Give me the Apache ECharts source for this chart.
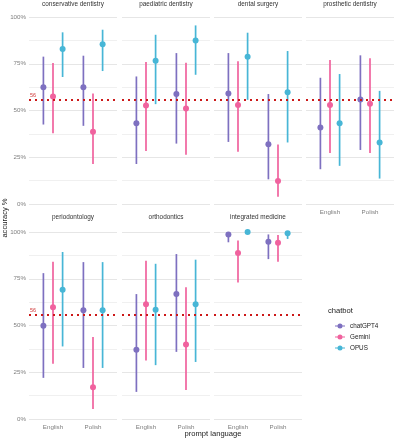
<!DOCTYPE html>
<html>
<head>
<meta charset="utf-8">
<script src="https://cdn.jsdelivr.net/npm/echarts@6/dist/echarts.min.js"></script>
<style>
  html, body { margin: 0; padding: 0; background: #fff; }
  #main { width: 395px; height: 440px; }
</style>
</head>
<body>
<div id="main"></div>
<script>
// panels in facet order, languages on x
var panels = ['conservative dentistry', 'paediatric dentistry', 'dental surgery', 'prosthetic dentistry',
              'periodontology', 'orthodontics', 'integrated medicine'];
var languages = ['English', 'Polish'];
var bots = ['chatGPT4', 'Gemini', 'OPUS'];
var yTicks = [0, 25, 50, 75, 100];
var refValue = 56;

// accuracy % per panel, [English, Polish]
var gptEst = [[62.5, 62.5], [43.2, 58.8], [59.1, 32.0], [40.9, 55.9], [49.8, 58.2], [37.0, 66.8], [98.7, 94.8]];
var gptLo  = [[42.5, 41.8], [21.4, 32.3], [33.2, 13.2], [18.6, 28.9], [22.0, 27.3], [14.5, 35.9], [94.5, 85.5]];
var gptHi  = [[78.8, 79.3], [68.2, 80.7], [80.7, 58.8], [67.5, 79.5], [78.0, 83.9], [66.8, 88.2], [99.8, 98.7]];

var gemEst = [[57.5, 38.6], [52.7, 51.1], [53.0, 12.3], [53.0, 53.6], [59.8, 17.0], [61.3, 39.8], [88.8, 94.3]];
var gemLo  = [[37.9, 21.4], [28.4, 26.3], [28.0, 3.9], [27.3, 27.3], [29.6, 5.4], [31.3, 15.5], [73.0, 84.1]];
var gemHi  = [[75.4, 59.1], [75.9, 75.5], [76.4, 31.8], [77.0, 78.0], [84.1, 43.8], [84.6, 70.4], [95.5, 98.4]];

var opusEst = [[82.9, 85.4], [76.6, 87.5], [78.8, 59.8], [43.2, 32.9], [69.1, 58.2], [58.4, 61.3], [100, 99.3]];
var opusLo  = [[67.9, 71.1], [53.4, 69.1], [55.7, 32.9], [20.4, 13.6], [38.8, 27.3], [28.8, 30.5], [99.5, 96.3]];
var opusHi  = [[91.8, 93.2], [90.5, 95.5], [91.6, 81.8], [69.5, 60.5], [89.3, 83.9], [83.0, 85.2], [100, 100]];

var botColors = ['#7E70C0', '#F0629E', '#47B6D6'];
var botEst = [gptEst, gemEst, opusEst];
var botLo = [gptLo, gemLo, opusLo];
var botHi = [gptHi, gemHi, opusHi];
var dodge = [-0.24, 0, 0.24];

var colLeft = [29, 122, 214, 306];
var rowTop = [17, 232];
var panelW = 88, panelH = 187;
var fontFamily = '"Liberation Sans", Arial, sans-serif';

function makeRender(b) {
  return function (params, api) {
    var x = api.value(0) + dodge[b];
    var pt = api.coord([x, api.value(1)]);
    var lo = api.coord([x, api.value(2)]);
    var hi = api.coord([x, api.value(3)]);
    return {
      type: 'group',
      children: [
        { type: 'line', shape: { x1: lo[0], y1: lo[1], x2: hi[0], y2: hi[1] },
          style: { stroke: botColors[b], lineWidth: 1.7 } },
        { type: 'circle', shape: { cx: pt[0], cy: pt[1], r: 3 },
          style: { fill: botColors[b] } }
      ]
    };
  };
}

var grids = [], xAxes = [], yAxes = [], series = [], graphics = [];

panels.forEach(function (name, p) {
  var row = p < 4 ? 0 : 1;
  var col = p % 4;
  var left = colLeft[col], top = rowTop[row];
  grids.push({ left: left, top: top, width: panelW, height: panelH });

  var showX = row === 1 || col === 3;
  xAxes.push({
    type: 'value', gridIndex: p, min: 0.4, max: 2.6,
    axisLine: { show: false }, axisTick: { show: false }, splitLine: { show: false },
    axisLabel: {
      show: showX, customValues: [1, 2], margin: 5,
      formatter: function (v) { return languages[Math.round(v) - 1]; },
      color: '#7f7f7f', fontSize: 6.2, fontFamily: fontFamily
    }
  });
  yAxes.push({
    type: 'value', gridIndex: p, min: 0, max: 100, interval: 25,
    axisLine: { show: false }, axisTick: { show: false },
    splitLine: { show: true, lineStyle: { color: '#E6E6E6', width: 1 } },
    minorTick: { show: false, splitNumber: 2 },
    minorSplitLine: { show: true, lineStyle: { color: '#F0F0F0', width: 1 } },
    axisLabel: {
      show: col === 0, margin: 3,
      formatter: function (v) { return v + '%'; },
      color: '#7f7f7f', fontSize: 6.2, fontFamily: fontFamily
    }
  });

  // reference line
  series.push({
    type: 'line', name: 'ref', xAxisIndex: p, yAxisIndex: p, data: [],
    silent: true,
    markLine: {
      symbol: 'none', silent: true, animation: false,
      lineStyle: { color: '#CC1818', width: 2, type: [2, 4] },
      label: {
        show: col === 0, position: 'insideStartTop', distance: [1, 1],
        formatter: String(refValue), color: '#D03A3A', fontSize: 5.5, fontFamily: fontFamily
      },
      data: [{ yAxis: refValue }]
    }
  });

  bots.forEach(function (bot, b) {
    var data = languages.map(function (lang, l) {
      return [l + 1, botEst[b][p][l], botLo[b][p][l], botHi[b][p][l]];
    });
    series.push({
      type: 'custom', name: bot, xAxisIndex: p, yAxisIndex: p,
      renderItem: makeRender(b),
      encode: { x: 0, y: [1, 2, 3] },
      clip: false,
      data: data
    });
  });

  graphics.push({
    type: 'text', x: left + panelW / 2, y: (row === 0 ? 4 : 217),
    style: { text: name, fill: '#333', font: '6.4px ' + fontFamily,
             textAlign: 'center', textVerticalAlign: 'middle' }
  });
});

graphics.push({
  type: 'text', x: 5, y: 218, rotation: Math.PI / 2,
  style: { text: 'accuracy %', fill: '#222', font: '7.6px ' + fontFamily,
           textAlign: 'center', textVerticalAlign: 'middle' }
});
graphics.push({
  type: 'text', x: 213, y: 434,
  style: { text: 'prompt language', fill: '#222', font: '7.6px ' + fontFamily,
           textAlign: 'center', textVerticalAlign: 'middle' }
});
graphics.push({
  type: 'text', x: 328, y: 311,
  style: { text: 'chatbot', fill: '#222', font: '7.6px ' + fontFamily,
           textAlign: 'left', textVerticalAlign: 'middle' }
});

var legendIcon = 'path://M0,2.8H14V4.2H0Z M3.5,3.5A3.5,3.5,0,1,1,10.5,3.5A3.5,3.5,0,1,1,3.5,3.5Z';

var option = {
  backgroundColor: '#fff',
  animation: false,
  textStyle: { fontFamily: fontFamily },
  grid: grids,
  xAxis: xAxes,
  yAxis: yAxes,
  legend: {
    data: bots.map(function (b, i) {
      return { name: b, icon: legendIcon, itemStyle: { color: botColors[i] } };
    }),
    orient: 'vertical', left: 330, top: 318, itemWidth: 10, itemHeight: 5, itemGap: 5,
    selectedMode: false,
    textStyle: { fontSize: 6.3, color: '#222', fontFamily: fontFamily, padding: [0, 0, 0, 0] }
  },
  graphic: graphics,
  series: series
};

var chart = echarts.init(document.getElementById('main'), null, { renderer: 'canvas' });
chart.setOption(option);
</script>
</body>
</html>
